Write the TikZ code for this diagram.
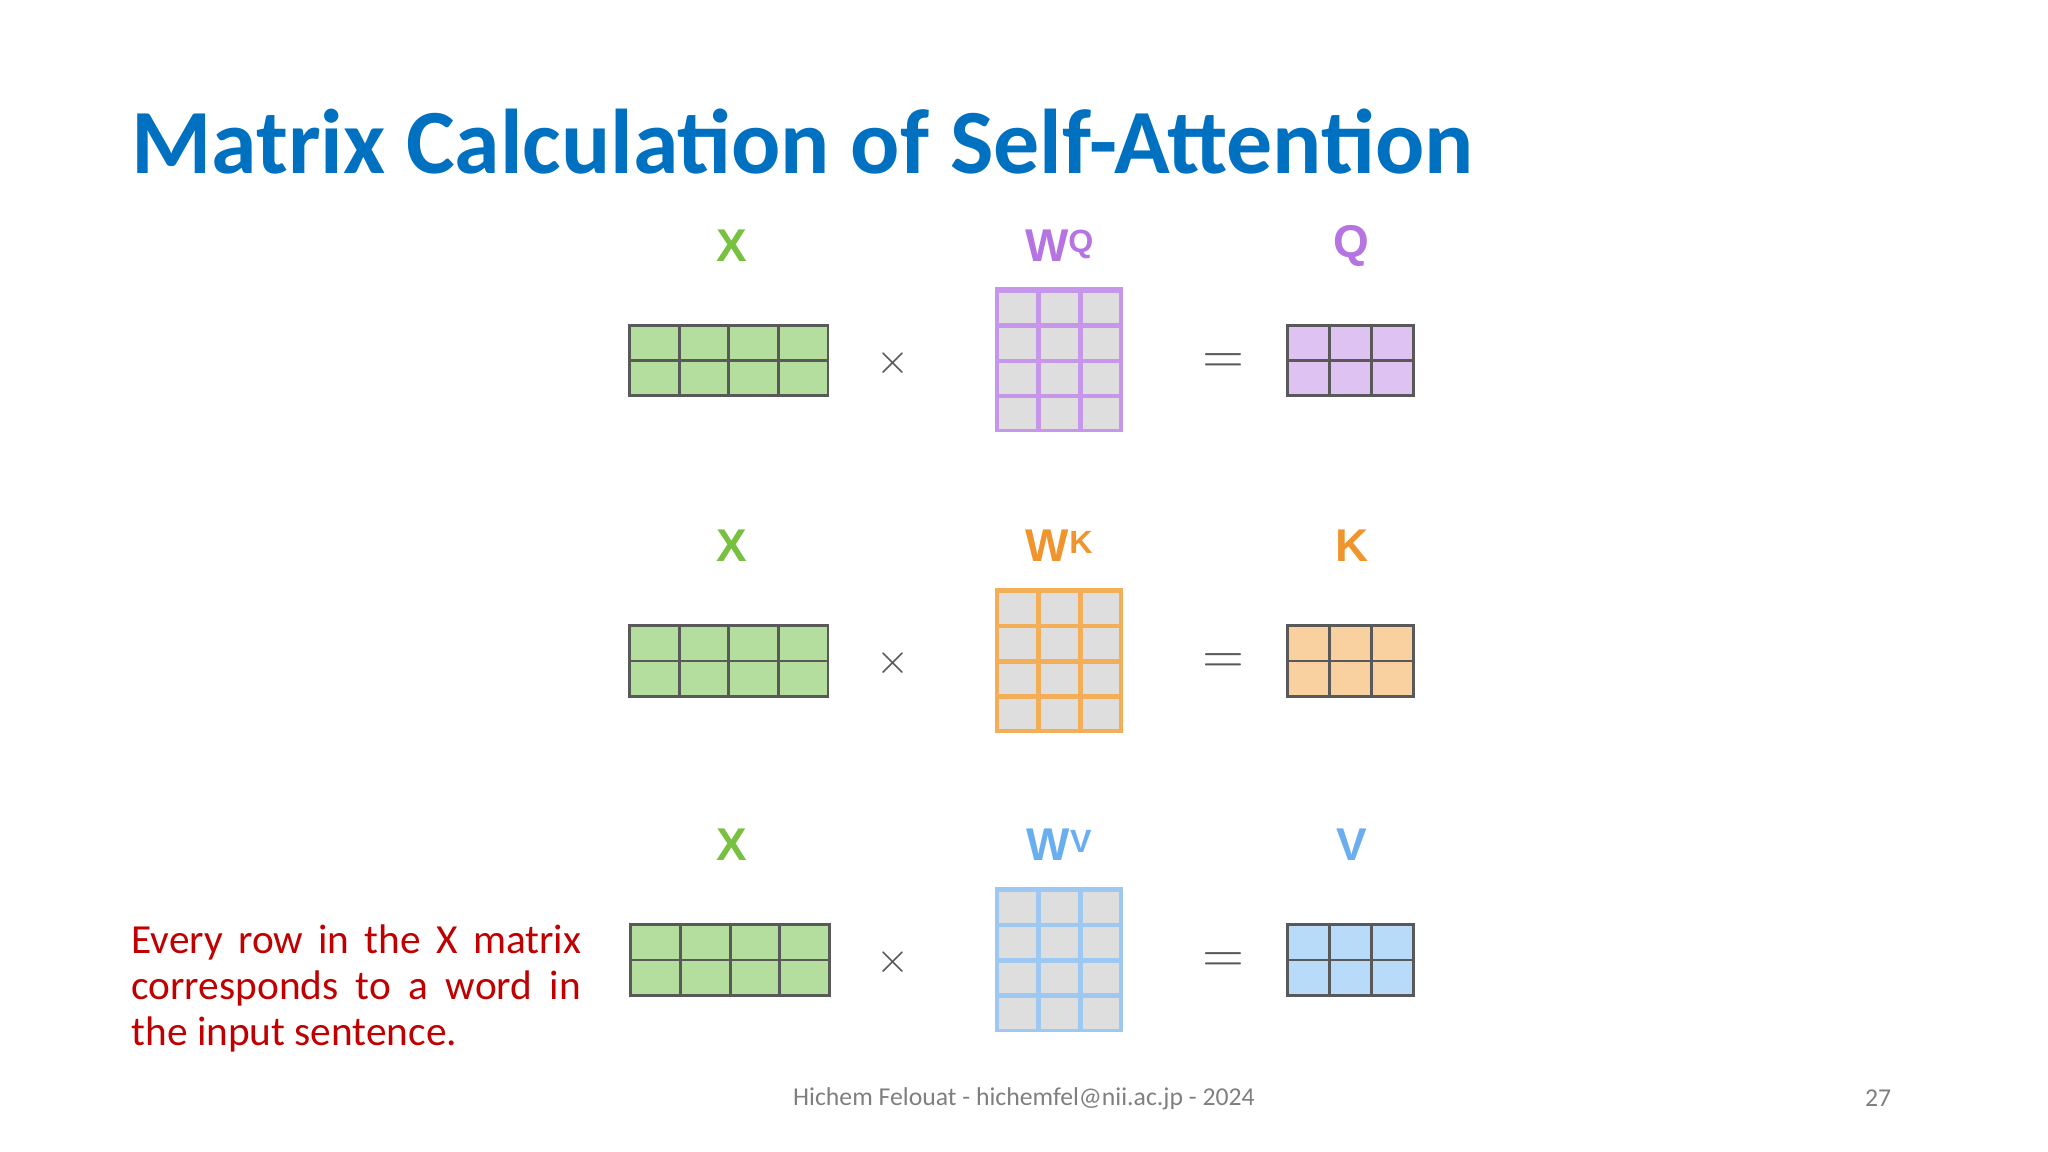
\documentclass[tikz,border=0pt]{standalone}
\usepackage{fontspec}
\setmainfont{Carlito}
\newfontfamily\arialf{Liberation Sans}
\definecolor{ttl}{HTML}{0070C0}
\definecolor{gx}{HTML}{B3DE9E}
\definecolor{gl}{HTML}{78C040}
\definecolor{pq}{HTML}{C596EA}
\definecolor{pqf}{HTML}{DEC2F2}
\definecolor{ok}{HTML}{F5AE58}
\definecolor{okf}{HTML}{F9D0A0}
\definecolor{bv}{HTML}{9CC8F2}
\definecolor{bvf}{HTML}{B9DBFA}
\definecolor{bvl}{HTML}{6AAEF0}
\definecolor{okl}{HTML}{F0952E}
\definecolor{pql}{HTML}{B574E2}
\definecolor{cellg}{HTML}{DEDEDE}
\definecolor{red}{HTML}{C00000}
\definecolor{ftr}{HTML}{7F7F7F}
\definecolor{sym}{HTML}{595959}
\tikzset{lbl/.style={font=\arialf\bfseries\fontsize{10}{12}\selectfont, inner sep=0pt},
 opsym/.style={font=\arialf\fontsize{9}{10}\selectfont, text=sym, inner sep=0pt}}
\begin{document}
\begin{tikzpicture}[x=0.01cm,y=-0.01cm]
\useasboundingbox (0,0) rectangle (1568,882);
\node[anchor=base west, text=ttl, font=\bfseries\fontsize{20}{24}\selectfont, inner sep=0pt] (title) at (100,133) {Matrix Calculation of Self-Attention};
% rows
\foreach \y/\yx/\xa/\mc/\mf/\lc/\sup/\res/\nm in {0/0/482/pq/pqf/pql/Q/Q/q, 230/230/482/ok/okf/okl/K/K/k, 459/459/483/bv/bvf/bvl/V/V/v}{
  % X matrix
  \draw[fill=gx, draw=sym, line width=0.6pt] (\xa,249+\y) rectangle (\xa+152,303+\y);
  \foreach \i in {1,2,3} \draw[draw=sym, line width=0.6pt] (\xa+38*\i,249+\y) -- (\xa+38*\i,303+\y);
  \draw[draw=sym, line width=0.6pt] (\xa,276+\y) -- (\xa+152,276+\y);
  % W matrix
  \fill[\mc] (762,221+\y-1) rectangle (860,331+\y);
  \foreach \i in {0,1,2} \foreach \j in {0,1,2,3}
    \fill[cellg] (765+32*\i,224+\y+27*\j) rectangle (765+32*\i+28,224+\y+27*\j+23.5);
  % result
  \draw[fill=\mf, draw=sym, line width=0.6pt] (986,249+\y) rectangle (1082,303+\y);
  \foreach \i in {1,2} \draw[draw=sym, line width=0.6pt] (986+32*\i,249+\y) -- (986+32*\i,303+\y);
  \draw[draw=sym, line width=0.6pt] (986,276+\y) -- (1082,276+\y);
  % labels
  \node[lbl, text=gl] (x\nm) at (560,188+\y) {X};
  \node[lbl, text=\lc] (w\nm) at (811,188+\y) {W\raisebox{0.35ex}{\fontsize{7}{8}\selectfont \sup}};
  \node[lbl, text=\lc] (r\nm) at (1035,188+\y) {\res};
  \node[opsym] (m\nm) at (684,278+\y) {$\times$};
  \node[opsym, font=\fontsize{12}{12}\selectfont] (e\nm) at (937,278+\y) {$=$};
}
\node[anchor=north west, inner sep=0pt, text=red, text width=3.44cm, align=justify, font=\fontsize{9}{10.1}\selectfont] (note) at (100,707) {Every row in the X matrix corresponds to a word in the input sentence.};
\node[text=ftr, font=\fontsize{5.6}{7}\selectfont, inner sep=0pt] (foot) at (784,841) {Hichem Felouat - hichemfel@nii.ac.jp - 2024};
\node[text=ftr, font=\fontsize{5.6}{7}\selectfont, inner sep=0pt] (pg) at (1438,841) {27};
\end{tikzpicture}
\end{document}
